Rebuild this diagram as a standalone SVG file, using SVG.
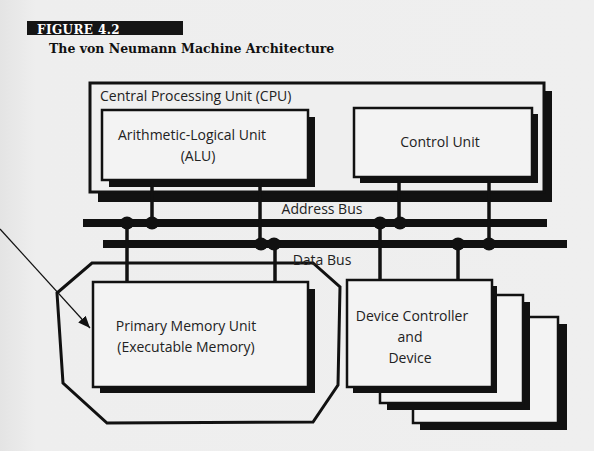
<svg xmlns="http://www.w3.org/2000/svg" width="594" height="451" viewBox="0 0 594 451">
  <defs>
    <linearGradient id="paper" x1="0" y1="0" x2="1" y2="0">
      <stop offset="0" stop-color="#e4e4e4"/>
      <stop offset="0.06" stop-color="#eeeeee"/>
      <stop offset="1" stop-color="#efefef"/>
    </linearGradient>
    <marker id="arrowhead" viewBox="0 0 12 10" refX="12" refY="5" markerWidth="12" markerHeight="10" markerUnits="userSpaceOnUse" orient="auto">
      <path d="M0,0 L12,5 L0,10 Z" fill="#111"/>
    </marker>
    <style>
      .box { fill: #f3f3f3; stroke: #111; stroke-width: 2.5; }
      .frame { fill: #efefef; stroke: #111; stroke-width: 3; }
      .shadow { fill: #111; }
      .bus { stroke: #111; stroke-width: 8; }
      .wire { stroke: #111; stroke-width: 3.5; fill: none; }
      .tap { fill: #111; }
      .lbl { font-family: "Open Sans", "Liberation Sans", Arial, sans-serif; font-size: 14px; fill: #222; text-anchor: middle; }
      .head { font-family: "DejaVu Serif", "Liberation Serif", serif; font-weight: bold; fill: #111; }
    </style>
  </defs>

  <rect x="0" y="0" width="594" height="451" fill="url(#paper)"/>

  <!-- heading -->
  <g id="heading">
    <rect x="27" y="21" width="156" height="14" fill="#151515"/>
    <text class="head" x="37" y="33.5" font-size="12" style="fill:#fff" letter-spacing="0.4">FIGURE 4.2</text>
    <text class="head" x="49" y="53" font-size="12.5">The von Neumann Machine Architecture</text>
  </g>

  <!-- memory enclosure outline -->
  <g id="memory-enclosure">
    <polygon points="92,263 313,263 340,287 338,385 313,422 107,423 63,383 57,293" fill="none" stroke="#111" stroke-width="3" stroke-linejoin="miter"/>
  </g>

  <!-- CPU -->
  <g id="cpu">
    <rect class="shadow" x="98" y="91" width="454" height="111"/>
    <rect class="frame" x="90" y="83" width="454" height="109"/>
    <text class="lbl" x="100" y="101" style="text-anchor:start">Central Processing Unit (CPU)</text>
  </g>

  <g id="alu">
    <rect class="shadow" x="109" y="117" width="206" height="70"/>
    <rect class="box" x="102" y="110" width="206" height="70"/>
    <text class="lbl" x="192" y="140">Arithmetic-Logical Unit</text>
    <text class="lbl" x="198" y="161">(ALU)</text>
  </g>

  <g id="control-unit">
    <rect class="shadow" x="360" y="114" width="178" height="69"/>
    <rect class="box" x="354" y="108" width="178" height="69"/>
    <text class="lbl" x="440" y="147">Control Unit</text>
  </g>

  <!-- buses and connections -->
  <g id="connectors">
    <line class="bus" x1="83" y1="223" x2="547" y2="223"/>
    <line class="bus" x1="103" y1="244" x2="567" y2="244"/>

    <!-- ALU / CU to buses -->
    <line class="wire" x1="152" y1="181" x2="152" y2="223"/>
    <line class="wire" x1="260" y1="181" x2="260" y2="244"/>
    <line class="wire" x1="399" y1="178" x2="399" y2="223"/>
    <line class="wire" x1="489" y1="178" x2="489" y2="244"/>

    <!-- buses to memory and devices -->
    <line class="wire" x1="127" y1="223" x2="127" y2="283"/>
    <line class="wire" x1="275" y1="244" x2="275" y2="283"/>
    <line class="wire" x1="380" y1="223" x2="380" y2="281"/>
    <line class="wire" x1="458" y1="244" x2="458" y2="281"/>

    <ellipse class="tap" cx="127" cy="223" rx="7" ry="6.5"/>
    <ellipse class="tap" cx="152" cy="223" rx="7" ry="6.5"/>
    <ellipse class="tap" cx="380" cy="223" rx="7" ry="6.5"/>
    <ellipse class="tap" cx="400" cy="223" rx="7" ry="6.5"/>
    <ellipse class="tap" cx="261" cy="244" rx="7" ry="6.5"/>
    <ellipse class="tap" cx="274" cy="244" rx="7" ry="6.5"/>
    <ellipse class="tap" cx="458" cy="244" rx="7" ry="6.5"/>
    <ellipse class="tap" cx="489" cy="244" rx="7" ry="6.5"/>

    <!-- pointer into memory -->
    <line x1="0" y1="229" x2="90" y2="328" stroke="#111" stroke-width="1.2" marker-end="url(#arrowhead)"/>
  </g>

  <g id="bus-labels">
    <text class="lbl" x="322" y="214">Address Bus</text>
    <text class="lbl" x="322" y="265">Data Bus</text>
  </g>

  <g id="memory">
    <rect class="shadow" x="100" y="289" width="215" height="104"/>
    <rect class="box" x="93" y="282" width="215" height="105"/>
    <text class="lbl" x="186" y="331">Primary Memory Unit</text>
    <text class="lbl" x="186" y="352">(Executable Memory)</text>
  </g>

  <!-- stacked device controllers -->
  <g id="device-3">
    <rect class="shadow" x="420" y="324" width="147" height="106"/>
    <rect class="box" x="413" y="317" width="145" height="106"/>
  </g>
  <g id="device-2">
    <rect class="shadow" x="387" y="302" width="143" height="108"/>
    <rect class="box" x="380" y="295" width="143" height="108"/>
  </g>
  <g id="device-1">
    <rect class="shadow" x="353" y="286" width="144" height="107"/>
    <rect class="box" x="347" y="280" width="145" height="107"/>
    <text class="lbl" x="412" y="321">Device Controller</text>
    <text class="lbl" x="410" y="342">and</text>
    <text class="lbl" x="410" y="363">Device</text>
  </g>
</svg>
